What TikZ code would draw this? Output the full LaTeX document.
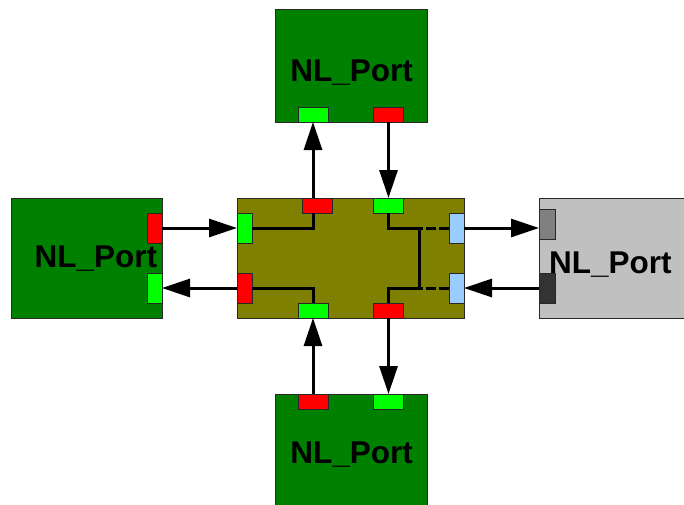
\documentclass[tikz,border=0pt]{standalone}
\usepackage{fontspec}
\setmainfont{Liberation Sans}
\usetikzlibrary{arrows.meta}
\definecolor{dkgreen}{RGB}{0,128,0}
\definecolor{olivebox}{RGB}{128,128,0}
\definecolor{brgreen}{RGB}{0,255,0}
\definecolor{brred}{RGB}{255,0,0}
\definecolor{ltblue}{RGB}{153,204,255}
\definecolor{ltgray}{RGB}{192,192,192}
\definecolor{mdgray}{RGB}{128,128,128}
\definecolor{dkgray}{RGB}{51,51,51}
\definecolor{edge}{RGB}{40,40,40}
\tikzset{
  shape box/.style={draw=edge, line width=0.8pt, inner sep=0pt, outer sep=0pt, rectangle},
  htab/.style={shape box, minimum width=30pt, minimum height=15pt},
  vtab/.style={shape box, minimum width=15pt, minimum height=30pt},
  label text/.style={inner sep=0pt, anchor=base, font=\fontsize{31.5}{31.5}\selectfont\bfseries},
  arr/.style={line width=3pt, -{Triangle[length=28pt,width=18pt]}},
  wire/.style={line width=3pt}
}
\begin{document}
\begin{tikzpicture}[x=1pt,y=-1pt]
\useasboundingbox (0,0) rectangle (684,504);
\clip (0,0) rectangle (684,504);
\fill[white] (0,0) rectangle (684,504);
% boxes
\node[shape box, fill=dkgreen, minimum width=152pt, minimum height=113pt] (top) at (351,65.5) {};
\node[shape box, fill=dkgreen, minimum width=152pt, minimum height=116pt] (bot) at (351,452) {};
\node[shape box, fill=dkgreen, minimum width=151pt, minimum height=120pt] (left) at (86.5,258) {};
\node[shape box, fill=ltgray, minimum width=151pt, minimum height=120pt] (right) at (614.5,258) {};
\node[shape box, fill=olivebox, minimum width=227pt, minimum height=120pt] (hub) at (350.5,258) {};
% labels
\node[label text] (ttop) at (351.7,81.7) {NL\_Port};
\node[label text] (tbot) at (351.7,463.3) {NL\_Port};
\node[label text] (tleft) at (95.8,267.3) {NL\_Port};
% tabs on hub
\node[htab, fill=brred] (cTopR) at (317,205.5) {};
\node[htab, fill=brgreen] (cTopG) at (388.5,205.5) {};
\node[vtab, fill=brgreen] (cLeftG) at (244.5,228) {};
\node[vtab, fill=brred] (cLeftR) at (244.5,288) {};
\node[htab, fill=brgreen] (cBotG) at (313,310.5) {};
\node[htab, fill=brred] (cBotR) at (388.5,310.5) {};
\node[vtab, fill=ltblue] (cRB1) at (456.5,228) {};
\node[vtab, fill=ltblue] (cRB2) at (456.5,288) {};
% tabs on ports
\node[htab, fill=brgreen] (tG) at (313,114.5) {};
\node[htab, fill=brred] (tR) at (388.5,114.5) {};
\node[htab, fill=brred] (bR) at (313,401.5) {};
\node[htab, fill=brgreen] (bG) at (388.5,401.5) {};
\node[vtab, fill=brred] (lR) at (154.5,228) {};
\node[vtab, fill=brgreen] (lG) at (154.5,288) {};
\node[vtab, minimum width=16pt, fill=mdgray] (rT) at (547,224) {};
\node[vtab, minimum width=16pt, fill=dkgray] (rB) at (547,288) {};
\node[label text] (tright) at (610.3,273.3) {NL\_Port};
% internal wiring
\coordinate (jTop) at (419,228);
\coordinate (jBot) at (419,288);
\draw[wire] (cLeftG.east) -| (cBotG.center |- cTopR.south);
\draw[wire] (cLeftR.east) -| (cBotG.north);
\draw[wire] (cTopG.south) |- (jTop) -- (jBot);
\draw[wire] (cBotR.north) |- (jBot);
\draw[wire, dash pattern=on 4pt off 3pt on 10pt off 3pt on 10pt off 0pt] (jTop) -- (cRB1.west);
\draw[wire, dash pattern=on 4pt off 3pt on 10pt off 3pt on 10pt off 0pt] (jBot) -- (cRB2.west);
% connectors
\draw[arr] (tG.south |- cTopR.north) -- (tG.south);
\draw[arr] (tR.south) -- (cTopG.north);
\draw[arr] (lR.east) -- (cLeftG.west);
\draw[arr] (cLeftR.west) -- (lG.east);
\draw[arr] (bR.north) -- (cBotG.south);
\draw[arr] (cBotR.south) -- (bG.north);
\draw[arr] (cRB1.east) -- (rT.west |- cRB1.east);
\draw[arr] (rB.west) -- (cRB2.east);
\end{tikzpicture}
\end{document}
